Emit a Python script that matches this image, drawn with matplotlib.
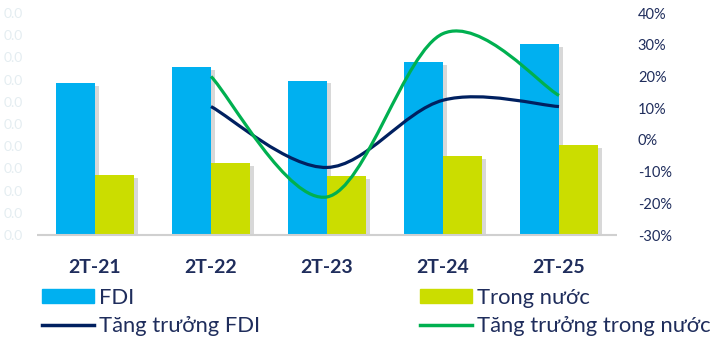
import matplotlib
matplotlib.use("Agg")
import matplotlib.pyplot as plt
import matplotlib.patheffects as pe
from matplotlib.path import Path
from matplotlib.patches import PathPatch, Patch
from matplotlib.lines import Line2D
import numpy as np

# Data
periods = ["2T-21", "2T-22", "2T-23", "2T-24", "2T-25"]
fdi = [6.85, 7.55, 6.95, 7.8, 8.6]
trong_nuoc = [2.7, 3.25, 2.65, 3.55, 4.05]
growth_periods = ["2T-22", "2T-23", "2T-24", "2T-25"]
growth_fdi = [10.5, -8.7, 12.5, 10.5]
growth_tn = [20.0, -18.0, 33.5, 14.0]

BLUE = "#00B0F0"
LIME = "#CBDD00"
NAVY = "#002060"
GREEN = "#00B050"
TEXT = "#1F2D5C"

plt.rcParams["font.family"] = ["Lato", "DejaVu Sans"]


def smooth_path(xs, ys):
    # Excel-style smoothed line: cubic bezier through the points
    pts = list(zip(xs, ys))
    verts = [pts[0]]
    codes = [Path.MOVETO]
    n = len(pts)
    for i in range(n - 1):
        p0 = pts[i - 1] if i > 0 else pts[i]
        p1 = pts[i]
        p2 = pts[i + 1]
        p3 = pts[i + 2] if i + 2 < n else pts[i + 1]
        c1 = (p1[0] + (p2[0] - p0[0]) / 6, p1[1] + (p2[1] - p0[1]) / 6)
        c2 = (p2[0] - (p3[0] - p1[0]) / 6, p2[1] - (p3[1] - p1[1]) / 6)
        verts += [c1, c2, p2]
        codes += [Path.CURVE4] * 3
    return Path(verts, codes)


fig = plt.figure(figsize=(7.13, 3.43), dpi=100)
ax = fig.add_axes([37 / 713, 1 - 235 / 343, 580 / 713, 222 / 343])

x = np.arange(len(periods))
w = 0.336
shadow = [pe.SimplePatchShadow(offset=(3, -2), shadow_rgbFace="#808080", alpha=0.3), pe.Normal()]
b1 = ax.bar(x - w / 2, fdi, w, color=BLUE, zorder=2)
b2 = ax.bar(x + w / 2, trong_nuoc, w, color=LIME, zorder=2)
for bar in list(b1) + list(b2):
    bar.set_path_effects(shadow)

ax.set_xlim(-0.5, len(periods) - 0.5)
ax.set_ylim(0, 10)
ax.set_yticks(np.arange(0, 11, 1))
ax.set_yticklabels(["0.0"] * 11, color="#E4EDF1", fontsize=10)
ax.set_xticks(x)
ax.set_xticklabels(periods, fontsize=14, fontweight="bold", color=TEXT)
ax.tick_params(axis="both", length=0)
ax.tick_params(axis="x", pad=17)
ax.tick_params(axis="y", pad=10)
for s in ["top", "right", "left"]:
    ax.spines[s].set_visible(False)
ax.spines["bottom"].set_color("#D0D0D0")
ax.spines["bottom"].set_linewidth(1.5)
ax.spines["bottom"].set_capstyle("butt")

ax2 = ax.twinx()
ax2.set_ylim(-30, 40)
ax2.set_yticks(np.arange(-30, 41, 10))
ax2.set_yticklabels([f"{v}%" for v in range(-30, 41, 10)], fontsize=10.5, color=TEXT)
ax2.tick_params(axis="y", length=0, pad=15)
for s in ax2.spines.values():
    s.set_visible(False)

gx = [periods.index(p) for p in growth_periods]
ax2.add_patch(PathPatch(smooth_path(gx, growth_fdi), fill=False, edgecolor=NAVY, lw=2.3, zorder=3))
ax2.add_patch(PathPatch(smooth_path(gx, growth_tn), fill=False, edgecolor=GREEN, lw=2.3, zorder=3))

leg_kw = dict(frameon=False, fontsize=15.8, handlelength=2.35, handleheight=0.6,
              handletextpad=0.25, labelspacing=0.36, borderpad=0, borderaxespad=0,
              loc="upper left", labelcolor=TEXT)
leg1 = fig.legend([Patch(color=BLUE), Line2D([], [], color=NAVY, lw=2.5)],
                  ["FDI", "Tăng trưởng FDI"],
                  bbox_to_anchor=(42 / 713, 1 - 288 / 343), **leg_kw)
leg2 = fig.legend([Patch(color=LIME), Line2D([], [], color=GREEN, lw=2.5)],
                  ["Trong nước", "Tăng trưởng trong nước"],
                  bbox_to_anchor=(420 / 713, 1 - 288 / 343), **leg_kw)

fig.savefig("out.png", dpi=100)
